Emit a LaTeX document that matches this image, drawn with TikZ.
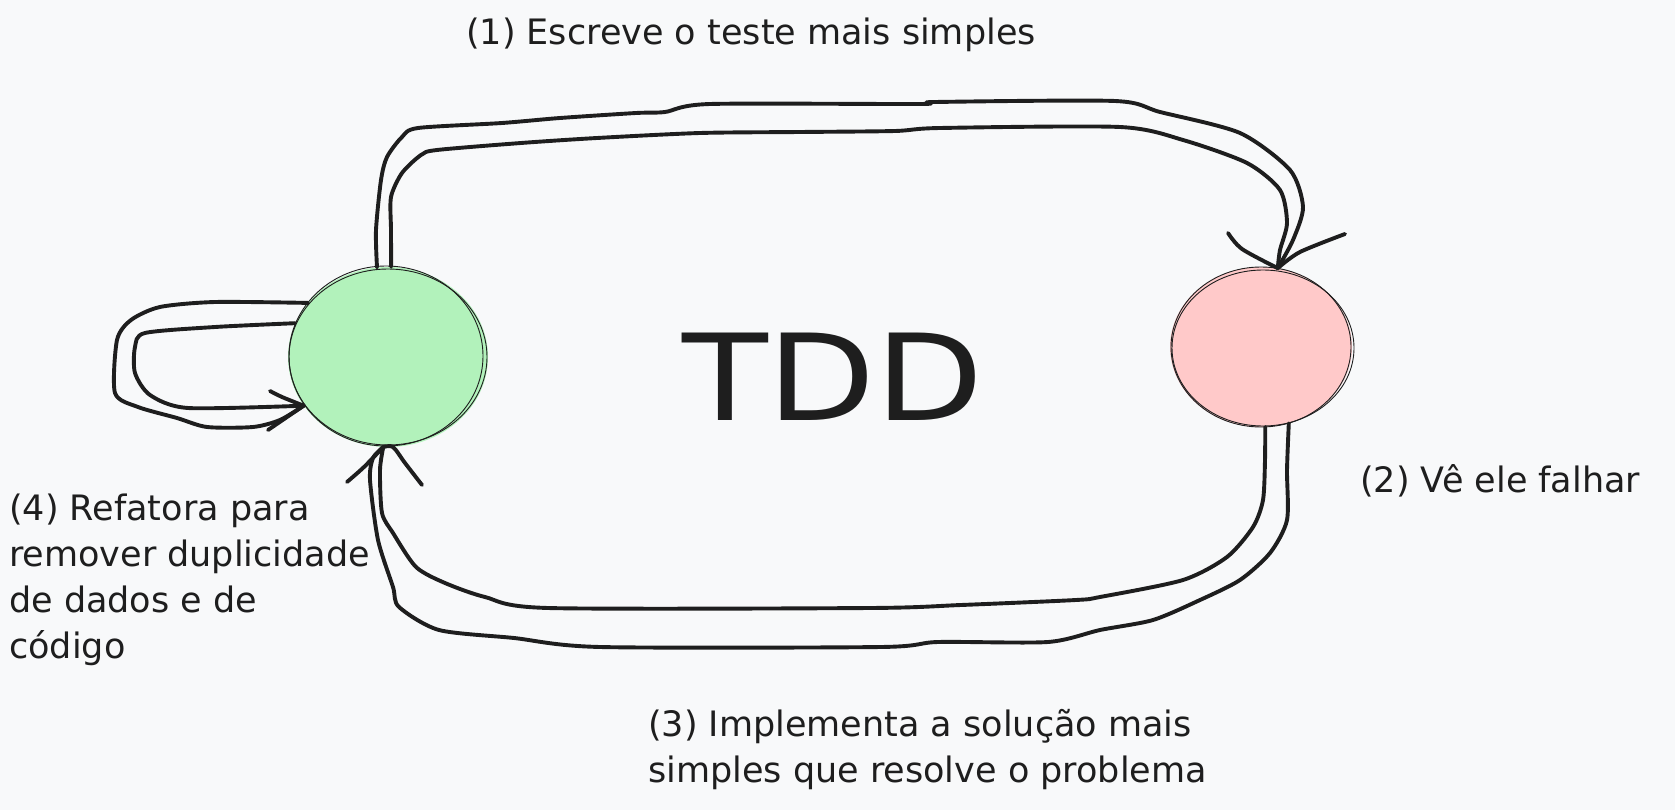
\documentclass[tikz,border=0pt]{standalone}
\usepackage{fontspec}
\setmainfont{DejaVu Sans}
\usetikzlibrary{shapes.geometric}
\definecolor{bgc}{HTML}{F8F9FA}
\definecolor{ink}{HTML}{1E1E1E}
\definecolor{gfill}{HTML}{B2F2BB}
\definecolor{rfill}{HTML}{FFC9C9}
\begin{document}
\begin{tikzpicture}[x=1pt,y=-1pt,
  stroke/.style={draw=ink, line width=3.9pt, line cap=round, line join=round},
  outline/.style={draw=ink, line width=0.9pt},
  lbl/.style={inner sep=0pt, text=ink, font=\fontsize{35}{46}\selectfont},
  blob/.style={ellipse, inner sep=0pt}]
\fill[bgc] (0,0) rectangle (1675,810);
\useasboundingbox (0,0) rectangle (1675,810);

% circles
\node[blob, fill=gfill, minimum width=200pt, minimum height=180pt] (g) at (388,357) {};
\draw[outline] (g.center) ellipse [x radius=99, y radius=88];
\draw[outline] ([xshift=-2pt,yshift=1pt]g.center) ellipse [x radius=97, y radius=90];
\node[blob, fill=rfill, minimum width=182pt, minimum height=160pt] (r) at (1261,347) {};
\draw[outline] (r.center) ellipse [x radius=90, y radius=80];
\draw[outline] ([xshift=2pt,yshift=-1pt]r.center) ellipse [x radius=91, y radius=78];

% (1) top arrow green -> red
\draw[stroke] plot[smooth, tension=0.45] coordinates {(g.97) (376,230) (381,180) (387,157) (402,137) (418,128) (502,123) (560,118) (636,113) (665,112) (710,104) (920,104) (935,102) (1115,101) (1160,112) (1240,133) (1290,170) (1303,207) (1293,240) (r.78)};
\draw[stroke] plot[smooth, tension=0.45] coordinates {(g.88) (391,230) (391,197) (402,173) (421,155) (437,150) (521,143) (597,138) (700,133) (800,132) (895,131) (940,128) (1120,127) (1183,140) (1247,163) (1280,190) (1287,223) (1280,250) (r.78)};
\draw[stroke] plot[smooth, tension=0.5] coordinates {(1228,233) (1242,249) (r.78)};
\draw[stroke] plot[smooth, tension=0.5] coordinates {(1345,234) (1300,252) (r.78)};

% (3) bottom arrow red -> green
\draw[stroke] plot[smooth, tension=0.45] coordinates {(r.273) (1265,460) (1263,500) (1253,527) (1227,557) (1183,580) (1100,597) (1076,600) (961,605) (870,608) (548,608) (485,597) (445,583) (416,567) (393,533) (382,513) (380,470) (g.267)};
\draw[stroke] plot[smooth, tension=0.45] coordinates {(r.290) (1287,470) (1287,520) (1270,553) (1240,580) (1200,600) (1153,620) (1100,630) (1048,642) (938,642) (881,647) (600,647) (514,638) (439,630) (399,607) (393,587) (378,540) (370,480) (373,458) (g.267)};
\draw[stroke] plot[smooth, tension=0.5] coordinates {(347,482) (364,467) (g.267)};
\draw[stroke] plot[smooth, tension=0.5] coordinates {(422,485) (405,463) (393,447) (g.267)};

% (4) self loop
\draw[stroke] plot[smooth, tension=0.45] coordinates {(g.146) (215,302) (160,307) (131,320) (117,340) (115,393) (138,407) (177,418) (207,427) (253,427) (280,420) (g.210)};
\draw[stroke] plot[smooth, tension=0.45] coordinates {(g.160) (215,327) (145,333) (135,347) (135,373) (150,395) (188,408) (g.210)};
\draw[stroke] plot[smooth, tension=0.5] coordinates {(270,391) (282,397) (g.210)};
\draw[stroke] (268,430) -- (g.210);

% texts
\node[inner sep=0pt, anchor=base, text=ink] (tdd) at (833,420) {\fontsize{120}{120}\selectfont\scalebox{1.17}[1]{TDD}};
\node[lbl, anchor=base west] (t1) at (466,45) {(1) Escreve o teste mais simples};
\node[lbl, anchor=base west] (t2) at (1360,492) {(2) Vê ele falhar};
\node[lbl, anchor=north west, align=left] (t3) at (648,709) {(3) Implementa a solução mais\\simples que resolve o problema};
\node[lbl, anchor=north west, align=left] (t4) at (9,494) {(4) Refatora para\\remover duplicidade\\de dados e de\\código};
\end{tikzpicture}
\end{document}
